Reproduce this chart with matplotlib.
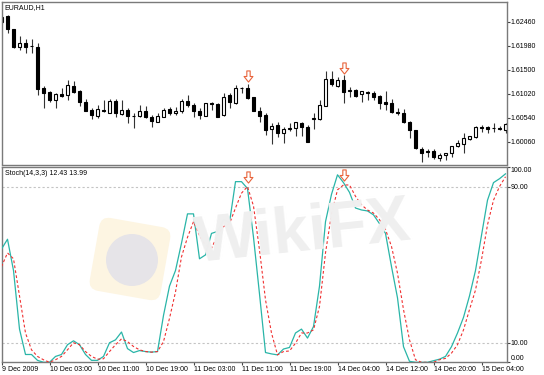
import numpy as np
import matplotlib
matplotlib.use("Agg")
import matplotlib.pyplot as plt
from matplotlib.path import Path
from matplotlib.patches import FancyBboxPatch, Circle
from matplotlib.transforms import Affine2D

plt.rcParams['font.family'] = ['Liberation Sans', 'DejaVu Sans']

# EURAUD H1 candles
opens = [1.6246, 1.6258, 1.6232, 1.6196, 1.6204, 1.6198, 1.6196, 1.6114, 1.6106, 1.6090,
         1.6102, 1.6100, 1.6118, 1.6108, 1.6086, 1.6070, 1.6058, 1.6070, 1.6064, 1.6088,
         1.6062, 1.6070, 1.6058, 1.6058, 1.6068, 1.6056, 1.6046, 1.6056, 1.6072, 1.6064,
         1.6068, 1.6088, 1.6080, 1.6068, 1.6058, 1.6084, 1.6082, 1.6060, 1.6100, 1.6084,
         1.6114, 1.6114, 1.6096, 1.6068, 1.6060, 1.6032, 1.6040, 1.6024, 1.6032, 1.6034,
         1.6044, 1.6036, 1.6052, 1.6052, 1.6078, 1.6132, 1.6118, 1.6130, 1.6108, 1.6110,
         1.6102, 1.6106, 1.6104, 1.6098, 1.6086, 1.6084, 1.6066, 1.6064, 1.6046, 1.6030,
         1.5992, 1.5988, 1.5988, 1.5974, 1.5980, 1.5984, 1.5998, 1.6002, 1.6012, 1.6016,
         1.6036, 1.6036, 1.6034, 1.6034, 1.6030]
highs = [1.6260, 1.6260, 1.6232, 1.6218, 1.6212, 1.6212, 1.6204, 1.6118, 1.6108, 1.6104,
         1.6114, 1.6130, 1.6128, 1.6110, 1.6092, 1.6074, 1.6080, 1.6090, 1.6092, 1.6092,
         1.6090, 1.6074, 1.6064, 1.6080, 1.6078, 1.6060, 1.6064, 1.6074, 1.6076, 1.6076,
         1.6092, 1.6100, 1.6084, 1.6074, 1.6084, 1.6085, 1.6083, 1.6104, 1.6104, 1.6120,
         1.6116, 1.6122, 1.6096, 1.6076, 1.6064, 1.6044, 1.6046, 1.6036, 1.6044, 1.6046,
         1.6046, 1.6040, 1.6064, 1.6090, 1.6148, 1.6148, 1.6136, 1.6140, 1.6116, 1.6112,
         1.6108, 1.6108, 1.6108, 1.6100, 1.6108, 1.6092, 1.6074, 1.6072, 1.6048, 1.6030,
         1.5996, 1.5992, 1.5992, 1.5984, 1.5984, 1.5998, 1.6010, 1.6024, 1.6018, 1.6038,
         1.6040, 1.6038, 1.6044, 1.6038, 1.6044]
lows = [1.6242, 1.6224, 1.6194, 1.6190, 1.6184, 1.6184, 1.6100, 1.6074, 1.6086, 1.6074,
        1.6096, 1.6090, 1.6104, 1.6078, 1.6068, 1.6052, 1.6054, 1.6066, 1.6064, 1.6056,
        1.6060, 1.6044, 1.6034, 1.6056, 1.6054, 1.6036, 1.6046, 1.6056, 1.6060, 1.6060,
        1.6064, 1.6076, 1.6056, 1.6052, 1.6058, 1.6070, 1.6056, 1.6058, 1.6074, 1.6082,
        1.6104, 1.6092, 1.6068, 1.6046, 1.6020, 1.6002, 1.6016, 1.6004, 1.6028, 1.6018,
        1.6018, 1.6006, 1.6032, 1.6050, 1.6078, 1.6118, 1.6116, 1.6084, 1.6096, 1.6096,
        1.6086, 1.6090, 1.6090, 1.6072, 1.6070, 1.6064, 1.6060, 1.6044, 1.6014, 1.5992,
        1.5966, 1.5976, 1.5972, 1.5968, 1.5970, 1.5976, 1.5996, 1.5984, 1.6010, 1.6014,
        1.6026, 1.6024, 1.6026, 1.6030, 1.6024]
closes = [1.6256, 1.6232, 1.6196, 1.6204, 1.6196, 1.6198, 1.6112, 1.6104, 1.6090, 1.6102,
          1.6098, 1.6120, 1.6106, 1.6086, 1.6068, 1.6060, 1.6072, 1.6067, 1.6088, 1.6064,
          1.6070, 1.6058, 1.6057, 1.6068, 1.6056, 1.6048, 1.6058, 1.6070, 1.6064, 1.6068,
          1.6088, 1.6080, 1.6068, 1.6060, 1.6084, 1.6082, 1.6056, 1.6096, 1.6086, 1.6114,
          1.6113, 1.6094, 1.6068, 1.6058, 1.6030, 1.6038, 1.6024, 1.6032, 1.6034, 1.6046,
          1.6036, 1.6006, 1.6054, 1.6080, 1.6132, 1.6122, 1.6130, 1.6106, 1.6110, 1.6098,
          1.6108, 1.6104, 1.6096, 1.6084, 1.6082, 1.6066, 1.6064, 1.6046, 1.6030, 1.5994,
          1.5984, 1.5986, 1.5976, 1.5980, 1.5984, 1.5998, 1.6004, 1.6014, 1.6018, 1.6036,
          1.6034, 1.6032, 1.6034, 1.6032, 1.6042]

# Stochastic(14,3,3): main %K and signal %D
stoch_main = [58, 63, 47, 17, 4, 4, 1, 0, 0, 3,
              4, 9, 11, 9, 4, 1, 1, 3, 10, 11.5,
              15.5, 7, 5, 6, 5.5, 5.2, 5.5, 24, 39, 47,
              61, 76, 76, 53, 55, 66, 67, 73, 71.6, 92.5,
              92.5, 89, 64, 35, 5, 4.3, 3.8, 6.8, 7.6, 15,
              17, 12.4, 18.3, 39, 72, 86, 96, 92, 87, 79,
              78, 77.5, 75.5, 71, 66, 49, 33, 8, 0.5, 0,
              0, 0, 0.8, 1.6, 3, 8, 15, 23, 34, 47,
              65, 83, 92, 94, 96.5]
stoch_signal = [49, 56, 53, 34, 15, 6.4, 3, 1.3, 0, 1.3,
                3, 6.4, 10, 9, 5.5, 3, 1.6, 1.8, 5.5, 9,
                12, 10.6, 8.1, 6.4, 5.5, 5.2, 5.5, 10.6, 22.5, 36,
                54, 64, 72, 65, 60, 58.4, 65, 69.5, 71, 79,
                86.6, 90, 80, 57.6, 32, 15, 3.8, 5.5, 5.8, 9.8,
                15, 15, 16.6, 28.6, 56, 76, 88.3, 90.8, 90.8, 85,
                80.6, 78, 76.4, 73, 68, 59.3, 45.6, 27, 11.5, 1.3,
                0, 0, 0, 1.3, 2, 4.7, 9, 16.6, 27, 37,
                52.5, 70.4, 83, 90, 95]

price_ticks = [1.60060, 1.60540, 1.61020, 1.61500, 1.61980, 1.62460]
stoch_ticks = [0, 10, 90, 100]
time_tick_bars = [0, 8, 16, 24, 32, 40, 48, 56, 64, 72, 80]
time_tick_labels = ["9 Dec 2009", "10 Dec 03:00", "10 Dec 11:00", "10 Dec 19:00",
                    "11 Dec 03:00", "11 Dec 11:00", "11 Dec 19:00", "14 Dec 04:00",
                    "14 Dec 12:00", "14 Dec 20:00", "15 Dec 04:00"]

# hollow down-arrow objects
arrow_bars = [41, 57]
arrow_prices = [1.6137, 1.6154]
arrow_stoch = [95, 96]

W, H = 544, 375
fig = plt.figure(figsize=(W / 100, H / 100), dpi=100)


def box(l, t, r, b):
    return [l / W, 1 - b / H, (r - l) / W, (b - t) / H]


ax1 = fig.add_axes(box(1.5, 2, 507, 164.5))
ax2 = fig.add_axes(box(1.5, 167, 507, 362.3))

frame_col = '#7a7a7a'
for ax in (ax1, ax2):
    for s in ax.spines.values():
        s.set_color(frame_col)
        s.set_linewidth(1)
    ax.set_xlim(0, 84.25)
    ax.yaxis.tick_right()
    ax.tick_params(axis='both', direction='out', length=2, width=0.8,
                   colors='#444444', labelsize=5, pad=0.5, labelcolor='black')

x = np.arange(len(opens))
o = np.array(opens)
c = np.array(closes)
up = c >= o

# candles
ax1.vlines(x, lows, highs, color='#333333', lw=0.8, zorder=1)
body_low = np.minimum(o, c)
body_h = np.maximum(np.abs(c - o), 0.00002)
ax1.bar(x[up], body_h[up], bottom=body_low[up], width=0.55,
        facecolor='white', edgecolor='black', lw=0.8, zorder=2)
ax1.bar(x[~up], body_h[~up], bottom=body_low[~up], width=0.55,
        facecolor='black', edgecolor='black', lw=0.8, zorder=2)

ax1.set_ylim(1.59610, 1.62860)
ax1.set_yticks(price_ticks)
ax1.set_yticklabels(['%.5f' % p for p in price_ticks])
ax1.set_xticks([])
ax1.text(0.006, 0.985, 'EURAUD,H1', transform=ax1.transAxes, fontsize=5,
         ha='left', va='top')

arrow = Path([(-0.3, 1), (0.3, 1), (0.3, 0), (0.8, 0), (0, -1), (-0.8, 0),
              (-0.3, 0), (-0.3, 1)], closed=True)
ax1.plot(arrow_bars, arrow_prices, ls='none', marker=arrow, ms=8,
         mfc='white', mec='#e8643c', mew=0.8, zorder=5)

# watermark (logo + WikiFX text) behind the oscillator
px = Affine2D().scale(1 / 100, -1 / 100).translate(0, H / 100) + fig.dpi_scale_trans
rot = Affine2D().rotate_deg_around(130, 259, 10)
logo = FancyBboxPatch((94, 222), 72, 74, boxstyle='round,pad=0,rounding_size=10',
                      facecolor='#fdf5e2', edgecolor='none', transform=rot + px,
                      zorder=0)
fig.add_artist(logo)
fig.add_artist(Circle((132, 260), 26, facecolor='#e6e4e8', edgecolor='none',
                      transform=px, zorder=0.5))
fig.text(303 / W, 1 - 234 / H, 'WikiFX', fontsize=47, fontweight='bold',
         color='#efefef', ha='center', va='center', rotation=6, zorder=0.6)
ax2.patch.set_alpha(0)

# stochastic
ax2.axhline(90, color='#c4c4c4', lw=0.8, ls=(0, (2, 2)), zorder=1)
ax2.axhline(10, color='#c4c4c4', lw=0.8, ls=(0, (2, 2)), zorder=1)
ax2.plot(x, stoch_main, color='#2ab5a8', lw=0.9, zorder=3)
ax2.plot(x, stoch_signal, color='#f03030', lw=0.8, ls=(0, (2.5, 2)), zorder=3)
ax2.plot(arrow_bars, arrow_stoch, ls='none', marker=arrow, ms=8,
         mfc='white', mec='#e8643c', mew=0.8, zorder=5)
ax2.set_ylim(0, 100)
ax2.set_yticks(stoch_ticks)
ax2.set_yticklabels(['%.2f' % v for v in stoch_ticks])
ylabels = ax2.get_yticklabels()
ylabels[0].set_va('bottom')
ylabels[-1].set_va('top')
ax2.set_xticks(time_tick_bars)
ax2.set_xticklabels(time_tick_labels, ha='left')
ax2.text(0.006, 0.985, 'Stoch(14,3,3) 12.43 13.99', transform=ax2.transAxes,
         fontsize=5, ha='left', va='top')

fig.savefig('out.png', dpi=100, facecolor='white')
